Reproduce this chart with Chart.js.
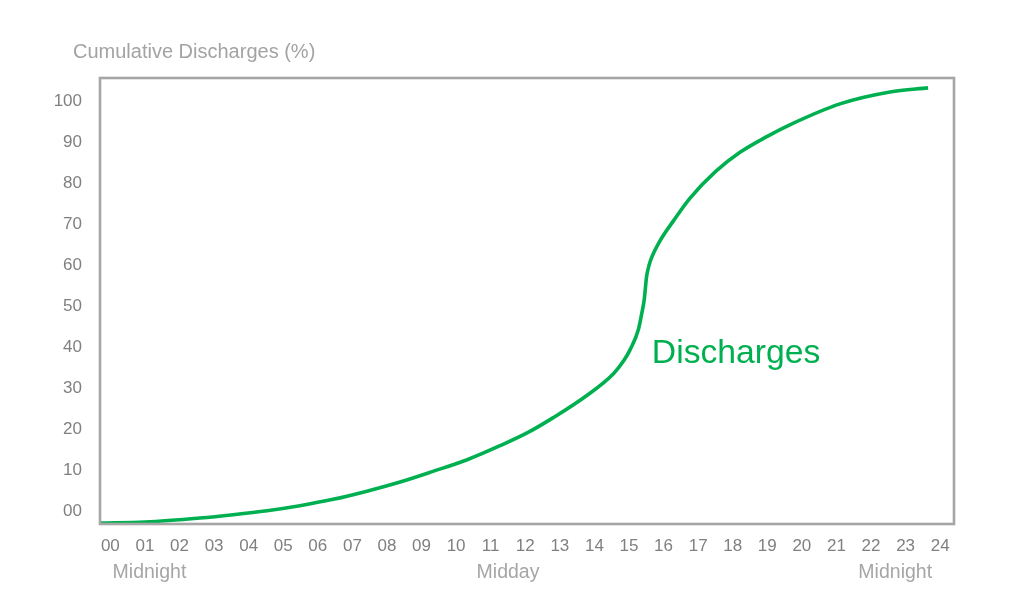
<!DOCTYPE html>
<html>
<head>
<meta charset="utf-8">
<script src="https://cdn.jsdelivr.net/npm/chart.js@4/dist/chart.umd.min.js"></script>
<style>
  html, body { margin: 0; padding: 0; background: #ffffff; }
  #wrap { width: 1024px; height: 615px; position: relative; }
</style>
</head>
<body>
<div id="wrap"><canvas id="c" width="1024" height="615"></canvas></div>
<script>
// ---- data ----
const hours = [-0.29, 1.0, 2.59, 3.55, 4.53, 5.48, 6.44, 7.42, 8.38, 9.33, 10.32, 11.27, 12.08, 12.81, 13.78, 14.55, 14.85, 15.03, 15.27, 15.37, 15.44, 15.51, 15.58, 15.66, 15.9, 16.3, 16.76, 17.5, 18.21, 19.0, 19.65, 21.1, 22.55, 23.65];
const discharges = [-2.75, -2.5, -1.53, -0.73, 0.24, 1.46, 3.0, 5.0, 7.23, 9.81, 12.65, 16.06, 19.3, 22.9, 28.3, 33.6, 36.8, 39.4, 44.3, 48.3, 51.6, 57.3, 60.0, 62.0, 66.0, 71.0, 76.3, 82.8, 87.5, 91.4, 94.2, 99.3, 102.2, 103.2];
const xTickValues = [0,1,2,3,4,5,6,7,8,9,10,11,12,13,14,15,16,17,18,19,20,21,22,23,24];
const xTickLabels = ['00','01','02','03','04','05','06','07','08','09','10','11','12','13','14','15','16','17','18','19','20','21','22','23','24'];
const yTickValues = [0,10,20,30,40,50,60,70,80,90,100];
const yTickLabels = ['00','10','20','30','40','50','60','70','80','90','100'];
const periodLabels = ['Midnight','Midday','Midnight'];
const yAxisTitle = 'Cumulative Discharges (%)';
const seriesName = 'Discharges';

const FONT = '"Liberation Sans", Arial, Helvetica, sans-serif';
const GREEN = '#00b050';

const points = hours.map((h, i) => ({ x: h, y: discharges[i] }));

const decorPlugin = {
  id: 'decor',
  afterDraw(chart, args, opts) {
    const ctx = chart.ctx;
    const a = chart.chartArea;
    const xs = chart.scales.x;
    const ys = chart.scales.y;
    ctx.save();
    // frame
    ctx.strokeStyle = '#a6a6a6';
    ctx.lineWidth = 2.6;
    ctx.strokeRect(a.left, a.top, a.right - a.left, a.bottom - a.top);
    // axis title
    ctx.fillStyle = '#a3a3a3';
    ctx.font = '20px ' + FONT;
    ctx.textAlign = 'left';
    ctx.textBaseline = 'middle';
    ctx.fillText(yAxisTitle, 73, 52);
    // period labels
    ctx.textAlign = 'center';
    ctx.fillStyle = '#a6a6a6';
    ctx.font = '19.5px ' + FONT;
    opts.periodAt.forEach((h, i) => {
      ctx.fillText(periodLabels[i], xs.getPixelForValue(h), 573);
    });
    // series label
    ctx.fillStyle = GREEN;
    ctx.font = '33.7px ' + FONT;
    ctx.textAlign = 'left';
    ctx.fillText(seriesName, xs.getPixelForValue(opts.labelAt.x), ys.getPixelForValue(opts.labelAt.y));
    ctx.restore();
  }
};

new Chart(document.getElementById('c'), {
  type: 'line',
  data: {
    datasets: [{
      label: seriesName,
      data: points,
      borderColor: GREEN,
      borderWidth: 3.6,
      pointRadius: 0,
      fill: false,
      cubicInterpolationMode: 'monotone'
    }]
  },
  options: {
    responsive: false,
    animation: false,
    events: [],
    layout: { padding: { left: 0, right: 70, top: 78, bottom: 0 } },
    plugins: {
      legend: { display: false },
      tooltip: { enabled: false },
      decor: { periodAt: [1.13, 11.5, 22.7], labelAt: { x: 15.66, y: 38.5 } }
    },
    scales: {
      x: {
        type: 'linear',
        min: -0.3,
        max: 24.4,
        afterBuildTicks(axis) { axis.ticks = xTickValues.map(v => ({ value: v })); },
        afterFit(axis) { axis.height = 91; },
        grid: { display: false, drawTicks: false },
        border: { display: false },
        ticks: {
          padding: 12,
          color: '#808080',
          maxRotation: 0,
          autoSkip: false,
          font: { family: FONT, size: 17 },
          callback(v) { const i = xTickValues.indexOf(v); return i >= 0 ? xTickLabels[i] : ''; }
        }
      },
      y: {
        type: 'linear',
        min: -3,
        max: 105.6,
        afterBuildTicks(axis) { axis.ticks = yTickValues.map(v => ({ value: v })); },
        afterFit(axis) { axis.width = 100; },
        grid: { display: false, drawTicks: false },
        border: { display: false },
        ticks: {
          padding: 18,
          color: '#808080',
          autoSkip: false,
          font: { family: FONT, size: 17 },
          callback(v) { const i = yTickValues.indexOf(v); return i >= 0 ? yTickLabels[i] : ''; }
        }
      }
    }
  },
  plugins: [decorPlugin]
});
</script>
</body>
</html>
